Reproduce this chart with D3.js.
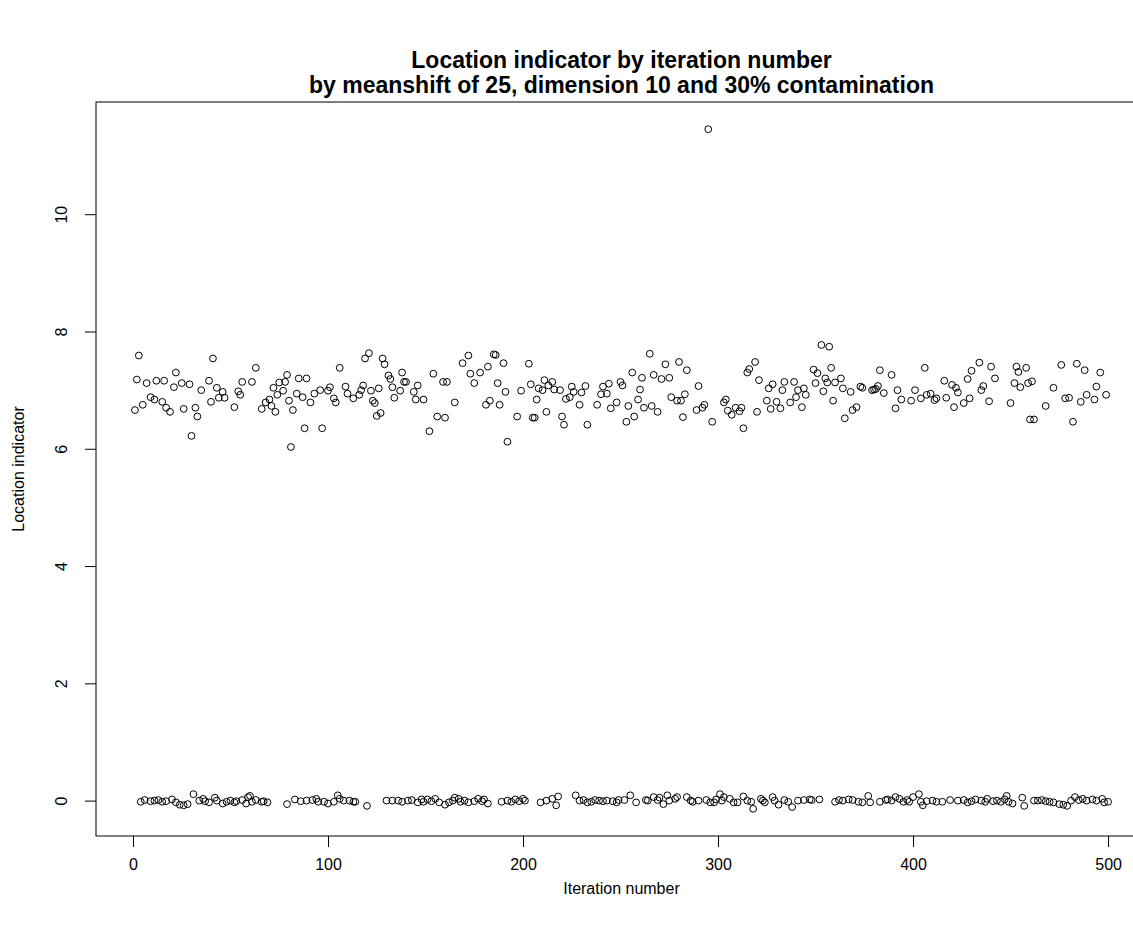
<!DOCTYPE html>
<html>
<head>
<meta charset="utf-8">
<script src="https://cdn.jsdelivr.net/npm/d3@7"></script>
<style>
  body { margin: 0; background: #fff; }
  text { font-family: "Liberation Sans", Arial, sans-serif; fill: #000; }
</style>
</head>
<body>
<div id="chart"></div>
<script>
// [iteration, location indicator] pairs
var upperPoints = [
  [2,7.18],[3,7.59],[1,6.66],[5,6.75],[7,7.12],[9,6.88],[11,6.84],[12,7.16],[15,6.80],[16,7.16],
  [17,6.70],[19,6.63],[22,7.30],[21,7.05],[25,7.12],[26,6.68],[29,7.10],[30,6.22],[32,6.70],[33,6.55],
  [35,7.00],[39,7.16],[41,7.54],[40,6.80],[43,7.04],[44,6.87],[46,6.97],[47,6.87],[52,6.71],[54,6.98],
  [55,6.92],[56,7.14],[61,7.14],[63,7.38],[66,6.68],[68,6.79],[70,6.84],[71,6.73],[73,6.63],[72,7.04],
  [74,6.92],[75,7.13],[77,6.99],[78,7.14],[79,7.26],[80,6.82],[82,6.66],[81,6.03],[85,7.20],[84,6.94],
  [87,6.88],[89,7.20],[88,6.35],
  [91,6.79],[93,6.94],[96,7.00],[97,6.35],[100,6.99],[101,7.05],[103,6.86],[104,6.79],[106,7.38],[109,7.06],
  [110,6.94],[113,6.86],[116,6.92],[117,7.00],[118,7.08],[119,7.54],[121,7.63],[122,6.99],[123,6.82],[124,6.78],
  [125,6.56],[127,6.61],[126,7.03],[128,7.54],[129,7.44],[131,7.25],[132,7.19],[133,7.05],[134,6.87],[137,6.99],
  [138,7.30],[139,7.14],[140,7.14],[144,6.97],[145,6.84],[146,7.08],[149,6.84],[152,6.30],[154,7.28],[156,6.55],
  [160,6.53],[159,7.14],[161,7.14],[165,6.79],[169,7.46],[172,7.59],[173,7.28],[175,7.12],[178,7.30],[182,7.40],
  [185,7.61],[186,7.60],[190,7.46],[187,7.12],[191,6.97],[183,6.82],[181,6.75],[188,6.75],[192,6.12],
  [197,6.55],[199,6.99],[203,7.45],[205,6.53],[206,6.53],[204,7.10],[207,6.84],[208,7.03],[210,7.00],[211,7.17],
  [212,6.63],[213,7.08],[215,7.14],[216,7.01],[219,7.00],[220,6.55],[221,6.41],[222,6.85],[224,6.88],[225,7.06],
  [226,6.97],[229,6.75],[230,6.96],[232,7.07],[233,6.41],[238,6.75],[240,6.93],[241,7.06],[243,6.94],[244,7.11],
  [245,6.69],[248,6.79],[250,7.14],[251,7.08],[253,6.46],[254,6.73],[256,7.30],[257,6.55],[259,6.84],[260,7.01],
  [261,7.21],[262,6.70],[265,7.62],[266,6.73],[267,7.26],[269,6.63],[271,7.19],[273,7.44],[275,7.21],[276,6.88],
  [279,6.82],[280,7.48],[281,6.82],[282,6.54],[283,6.93],[284,7.34],[289,6.66],[290,7.07],[292,6.70],[293,6.75],
  [297,6.46],[303,6.79],[304,6.84],[305,6.65],[307,6.58],[309,6.70],[311,6.64],[312,6.70],[313,6.35],[315,7.30],
  [316,7.36],[319,7.48],[320,6.63],[321,7.17],[325,6.82],[326,7.03],[327,6.68],[328,7.10],[330,6.80],[332,6.69],
  [333,7.00],[334,7.14],[337,6.79],[339,7.14],[340,6.88],[341,7.00],[343,6.71],[344,7.03],[345,6.92],[349,7.35],
  [350,7.12],[351,7.29],[353,7.77],[354,6.98],[355,7.20],[356,7.13],[357,7.74],[358,7.38],[359,6.82],[360,7.13],
  [363,7.20],[364,7.03],[365,6.52],[368,6.97],[369,6.66],[371,6.71],[373,7.06],[374,7.04],[379,7.00],[380,7.01],
  [381,7.02],[382,7.07],[383,7.34],[385,6.95],[389,7.26],[391,6.69],[392,7.00],[394,6.84],[399,6.82],
  [401,7.00],[404,6.86],[406,7.38],[407,6.92],[409,6.94],[411,6.83],[412,6.86],[416,7.16],[417,6.87],[420,7.09],
  [421,6.71],[422,7.04],[423,6.96],[426,6.78],[428,7.19],[429,6.86],[430,7.33],[434,7.47],[435,7.00],[436,7.07],
  [439,6.81],[440,7.40],[442,7.20],[450,6.78],[452,7.12],[453,7.40],[454,7.31],[455,7.05],[458,7.38],[459,7.12],
  [461,7.15],[460,6.50],[462,6.50],[468,6.73],[472,7.04],[476,7.43],[478,6.86],[480,6.87],[482,6.46],[484,7.45],
  [486,6.80],[488,7.34],[489,6.92],[493,6.84],[494,7.06],[496,7.30],[499,6.92]
];

var outlierPoints = [[295,11.45]];

var lowerPoints = [
  [4,-0.02],[6,0.01],[9,-0.01],[11,0.00],[13,0.01],[15,-0.02],[17,-0.01],[20,0.02],[22,-0.03],[24,-0.07],
  [26,-0.08],[28,-0.06],[31,0.11],[34,0.00],[36,0.03],[37,-0.01],[39,-0.03],[42,0.05],[43,0.00],[46,-0.05],
  [48,-0.02],[50,0.00],[52,-0.03],[53,-0.01],[56,0.01],[59,0.06],[60,0.08],[58,-0.05],[61,-0.02],[63,0.01],
  [66,-0.02],[67,-0.01],[69,-0.03],[79,-0.06],[83,0.02],[86,-0.01],[89,0.00],[92,0.01],[94,0.03],[95,-0.02],
  [98,-0.02],[100,-0.05],[103,-0.02],[105,0.09],[106,0.03],[108,0.00],[111,0.00],[113,-0.02],[114,-0.02],
  [120,-0.09],[130,0.00],[133,0.00],[136,0.00],[138,-0.02],[141,0.00],[143,0.01],[146,-0.03],[148,0.02],[149,-0.02],
  [151,0.02],[153,-0.01],[155,0.03],[157,-0.03],[160,-0.07],[162,-0.03],[164,0.00],[165,0.05],[167,0.03],[168,-0.02],
  [170,0.00],[172,-0.03],[175,-0.01],[177,0.03],[179,-0.01],[180,0.02],[182,-0.05],[189,-0.02],[192,0.00],[194,-0.02],
  [196,0.02],[198,-0.01],[200,0.03],[201,0.00],[209,-0.03],[212,0.00],[215,0.03],[218,0.07],[217,-0.08],[227,0.09],
  [229,0.00],[231,0.01],[233,-0.03],[235,-0.02],[237,0.01],[239,0.00],[241,-0.01],[243,0.00],
  [246,-0.01],[248,-0.03],[249,0.01],[252,0.01],[255,0.09],[258,-0.03],[263,0.01],[264,0.00],[267,0.06],[269,0.01],
  [270,0.05],[272,-0.06],[274,0.09],[275,0.00],[278,0.03],[279,0.06],[284,0.06],[286,0.00],[287,-0.02],[290,0.00],
  [294,0.01],[296,-0.03],[298,-0.03],[299,0.02],[301,0.11],[302,0.00],[303,0.06],[306,0.03],[308,-0.03],[310,-0.03],
  [313,0.07],[315,0.00],[317,-0.02],[318,-0.14],[322,0.03],[323,0.00],[324,-0.03],[328,0.06],[329,0.00],[331,-0.07],
  [334,0.01],[336,-0.02],[338,-0.11],[341,0.00],[344,0.01],[347,0.02],[348,0.01],[352,0.02],[360,-0.02],[362,0.01],
  [364,0.00],[367,0.02],[369,0.01],[372,-0.02],
  [374,-0.03],[377,0.08],[378,-0.03],[383,-0.02],[386,0.01],[387,0.02],[389,0.00],[391,0.06],[393,0.03],[395,-0.02],
  [397,0.01],[398,-0.02],[400,0.06],[403,0.11],[404,-0.02],[405,-0.08],[407,-0.01],[410,0.00],[412,-0.02],[415,-0.02],
  [419,0.01],[423,0.00],[426,0.01],[428,-0.03],[430,-0.01],[432,0.02],[435,0.00],[437,-0.02],[438,0.03],[441,-0.01],
  [443,0.00],[445,-0.02],[447,0.02],[448,0.08],[449,-0.02],[451,-0.05],[456,0.05],[457,-0.09],[462,0.00],[464,0.00],
  [466,0.01],[468,-0.01],[470,-0.02],[472,-0.03],[475,-0.06],[477,-0.07],[479,-0.09],[481,0.00],[483,0.06],[485,0.01],
  [487,0.03],[489,0.00],[492,0.02],[494,0.00],[497,0.03],[498,-0.03],[500,-0.02]
];

var xTicks = [0, 100, 200, 300, 400, 500];
var yTicks = [0, 2, 4, 6, 8, 10];

var titleMain = "Location indicator by iteration number";
var titleSub = "by meanshift of 25, dimension 10 and 30% contamination";
var xLabel = "Iteration number";
var yLabel = "Location indicator";

var W = 1133, H = 925;
var box = {left: 96, right: 1147, top: 102, bottom: 836};

var allPoints = upperPoints.concat(outlierPoints, lowerPoints);

// R style 4% padding on both axes
function padded(ext){
  var p = (ext[1] - ext[0]) * 0.04;
  return [ext[0] - p, ext[1] + p];
}

var x = d3.scaleLinear()
  .domain(padded(d3.extent(allPoints, d => d[0])))
  .range([box.left, box.right]);
var y = d3.scaleLinear()
  .domain(padded(d3.extent(allPoints, d => d[1])))
  .range([box.bottom, box.top]);

var svg = d3.select("#chart").append("svg")
  .attr("width", W)
  .attr("height", H);

svg.append("rect")
  .attr("width", W).attr("height", H)
  .attr("fill", "#fff");

// titles
svg.append("text")
  .attr("x", (box.left + box.right) / 2)
  .attr("y", 68)
  .attr("text-anchor", "middle")
  .style("font-size", "23px")
  .style("font-weight", "bold")
  .text(titleMain);
svg.append("text")
  .attr("x", (box.left + box.right) / 2)
  .attr("y", 93)
  .attr("text-anchor", "middle")
  .style("font-size", "23px")
  .style("font-weight", "bold")
  .text(titleSub);

// x axis
var xAxis = svg.append("g")
  .attr("transform", "translate(0," + box.bottom + ")")
  .call(d3.axisBottom(x).tickValues(xTicks).tickSize(11).tickPadding(12).tickFormat(d3.format("d")));
xAxis.select(".domain").remove();
xAxis.selectAll("line").attr("stroke", "#000");
xAxis.selectAll("text")
  .attr("font-family", null)
  .style("font-size", "16px");

// y axis, labels parallel to the axis like R
var yAxis = svg.append("g")
  .attr("transform", "translate(" + box.left + ",0)")
  .call(d3.axisLeft(y).tickValues(yTicks).tickSize(11).tickFormat(d3.format("d")));
yAxis.select(".domain").remove();
yAxis.selectAll("line").attr("stroke", "#000");
yAxis.selectAll("text")
  .attr("font-family", null)
  .style("font-size", "16px")
  .attr("x", null).attr("dy", null)
  .attr("text-anchor", "middle")
  .attr("transform", "translate(-29,0) rotate(-90)");

// plot frame
svg.append("rect")
  .attr("x", box.left).attr("y", box.top)
  .attr("width", box.right - box.left)
  .attr("height", box.bottom - box.top)
  .attr("fill", "none")
  .attr("stroke", "#000")
  .attr("stroke-width", 1);

// axis titles
svg.append("text")
  .attr("x", (box.left + box.right) / 2)
  .attr("y", 894)
  .attr("text-anchor", "middle")
  .style("font-size", "16px")
  .text(xLabel);
svg.append("text")
  .attr("transform", "translate(24," + ((box.top + box.bottom) / 2) + ") rotate(-90)")
  .attr("text-anchor", "middle")
  .style("font-size", "16px")
  .text(yLabel);

// points (pch = 1)
svg.append("g")
  .selectAll("circle")
  .data(allPoints)
  .join("circle")
  .attr("cx", d => x(d[0]))
  .attr("cy", d => y(d[1]))
  .attr("r", 3.4)
  .attr("fill", "none")
  .attr("stroke", "#000")
  .attr("stroke-width", 1);
</script>
</body>
</html>
